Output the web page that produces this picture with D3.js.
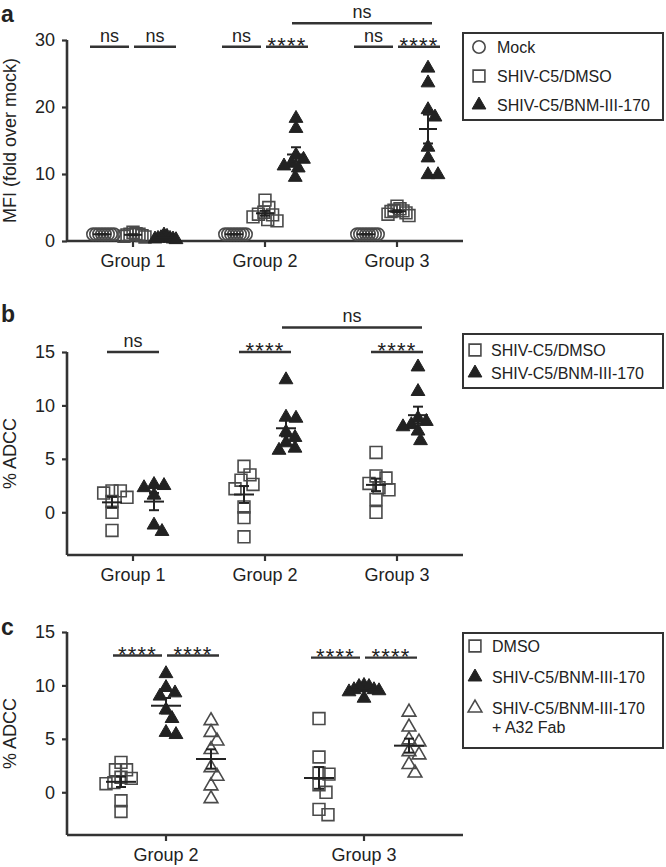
<!DOCTYPE html>
<html>
<head>
<meta charset="utf-8">
<script src="https://cdnjs.cloudflare.com/ajax/libs/d3/7.8.5/d3.min.js"></script>
<style>
  body { margin: 0; background: #fff; }
  svg text { font-family: "Liberation Sans", Arial, Helvetica, sans-serif; fill: #222; }
</style>
</head>
<body>
<div id="chart"></div>
<script>
// ---- data ----
const groupsA = ["Group 1", "Group 2", "Group 3"];
const mockA = [
  [1, 1, 1, 1, 1, 1, 1, 1],
  [1, 1, 1, 1, 1, 1, 1, 1],
  [1, 1, 1, 1, 1, 1, 1, 1]
];
const dmsoA = [
  [1.3, 1.1, 1.0, 1.0, 0.9, 0.8, 0.7, 0.6],
  [6.1, 5.0, 4.3, 4.0, 3.9, 3.6, 3.2, 3.0],
  [5.2, 4.8, 4.6, 4.5, 4.4, 4.2, 4.0, 3.8]
];
const bnmA = [
  [0.9, 0.7, 0.5, 0.4, 0.4, 0.3, 0.3, 0.2],
  [18.3, 16.8, 12.8, 12.2, 11.6, 11.2, 10.9, 9.5],
  [25.8, 23.6, 19.6, 18.5, 14.0, 12.4, 9.9, 9.9]
];

const groupsB = ["Group 1", "Group 2", "Group 3"];
const dmsoB = [
  [2.0, 1.8, 1.4, 1.0, 2.0, 0.0, -1.7],
  [4.3, 3.5, 3.0, 2.6, 2.2, 0.5, -0.5, -2.3],
  [5.6, 3.4, 3.2, 2.7, 2.3, 2.1, 1.2, 0.0]
];
const bnmB = [
  [2.6, 2.3, 2.5, 1.6, -1.8, -1.2],
  [12.4, 8.9, 8.8, 7.5, 7.0, 6.5, 6.0, 5.8],
  [13.6, 11.3, 8.8, 8.5, 8.2, 8.0, 7.6, 6.7]
];

const groupsC = ["Group 2", "Group 3"];
const dmsoC = [
  [2.8, 2.1, 2.1, 1.4, 1.3, 0.9, 0.8, -0.8, -1.8],
  [6.9, 3.3, 1.8, 1.7, 0.7, 0.0, -1.6, -2.1]
];
const bnmC = [
  [11.1, 9.8, 9.3, 9.0, 7.7, 6.9, 5.6, 5.4],
  [10.0, 9.9, 9.9, 9.6, 9.6, 9.5, 9.4, 8.8]
];
const fabC = [
  [6.7, 5.6, 4.8, 4.0, 2.3, 1.5, 0.6, -0.6],
  [7.5, 6.1, 4.9, 4.7, 3.8, 3.5, 2.6, 1.8]
];

// significance brackets: group, from series, to series, level (data units), label
const sigA = [
  {g: 0, from: 0, to: 1, level: 29, label: "ns"},
  {g: 0, from: 1, to: 2, level: 29, label: "ns"},
  {g: 1, from: 0, to: 1, level: 29, label: "ns"},
  {g: 1, from: 1, to: 2, level: 29, label: "****"},
  {g: 2, from: 0, to: 1, level: 29, label: "ns"},
  {g: 2, from: 1, to: 2, level: 29, label: "****"}
];
const spanA = [{g1: 1, g2: 2, s: 2, level: 32.5, label: "ns"}];
const sigB = [
  {g: 0, from: 0, to: 1, level: 15, label: "ns"},
  {g: 1, from: 0, to: 1, level: 15, label: "****"},
  {g: 2, from: 0, to: 1, level: 15, label: "****"}
];
const spanB = [{g1: 1, g2: 2, s: 1, level: 17.3, label: "ns"}];
const sigC = [
  {g: 0, from: 0, to: 1, level: 12.8, label: "****"},
  {g: 0, from: 1, to: 2, level: 12.8, label: "****"},
  {g: 1, from: 0, to: 1, level: 12.6, label: "****"},
  {g: 1, from: 1, to: 2, level: 12.6, label: "****"}
];

const W = 666, H = 867;
const svg = d3.select("#chart").append("svg")
  .attr("width", W).attr("height", H);

const ink = "#222", openInk = "#4a4a4a";
const sym = {
  circle: d3.symbol().type(d3.symbolCircle).size(120)(),
  square: d3.symbol().type(d3.symbolSquare).size(140)(),
  triangle: d3.symbol().type(d3.symbolTriangle).size(82)()
};

function marker(sel, kind, filled) {
  return sel.append("path")
    .attr("d", sym[kind])
    .attr("fill", filled ? ink : "none")
    .attr("stroke", filled ? ink : openInk)
    .attr("stroke-width", filled ? 1 : 1.6);
}

// small beeswarm: push points sideways until they stop overlapping,
// then squeeze the column if it grows wider than maxSpread
function swarm(values, y, dist, maxSpread) {
  const pts = values.map(v => ({v: v, py: y(v), dx: 0})).sort((a, b) => a.py - b.py);
  const placed = [];
  pts.forEach(p => {
    for (let k = 0; k < 200; k++) {
      const off = (k % 2 ? 1 : -1) * Math.ceil(k / 2);
      const hit = placed.some(q => Math.hypot(q.dx - off, q.py - p.py) < dist);
      if (!hit) { p.dx = off; break; }
    }
    placed.push(p);
  });
  const ext = d3.max(pts, p => Math.abs(p.dx));
  if (ext > maxSpread / 2) pts.forEach(p => { p.dx *= (maxSpread / 2) / ext; });
  return pts;
}

function drawPanel(c) {
  const y = d3.scaleLinear().domain(c.yDomain).range([c.bottom, c.top]);
  const x = d3.scaleBand().domain(c.groups).range([67, 463]);
  const names = c.series.map(s => s.name);
  const sub = d3.scalePoint().domain(names).range([-c.subW, c.subW]);
  const cx = (g, si) => x(c.groups[g]) + x.bandwidth() / 2 + sub(names[si]);

  const g = svg.append("g");

  // axes
  const yAxis = d3.axisLeft(y).tickValues(c.ticks).tickSize(5).tickPadding(7);
  const ya = g.append("g").attr("transform", "translate(67,0)").call(yAxis);
  ya.select(".domain").attr("d", "M0," + y(c.yDomain[1]) + "V" + c.bottom);
  const xAxis = d3.axisBottom(x).tickSize(6).tickPadding(7);
  const xa = g.append("g").attr("transform", "translate(0," + c.bottom + ")").call(xAxis);
  xa.select(".domain").attr("d", "M67,0H463");
  g.selectAll(".domain").attr("stroke", "#333").attr("stroke-width", 2.6);
  g.selectAll(".tick line").attr("stroke", "#333").attr("stroke-width", 2.2);
  g.selectAll(".tick text").attr("font-size", 18).attr("fill", "#222")
    .style("font-family", "'Liberation Sans', Arial, sans-serif");

  // points + mean ± SEM
  c.series.forEach((s, si) => {
    s.data.forEach((vals, gi) => {
      const px = cx(gi, si);
      swarm(vals, y, 10, c.spread).forEach(p => {
        marker(g, s.kind, s.filled).attr("transform", "translate(" + (px + p.dx) + "," + p.py + ")");
      });
      const m = d3.mean(vals);
      const sem = d3.deviation(vals) / Math.sqrt(vals.length);
      const eb = g.append("g").attr("stroke", ink).attr("stroke-width", 2).attr("fill", "none");
      eb.append("line").attr("x1", px - c.meanW).attr("x2", px + c.meanW).attr("y1", y(m)).attr("y2", y(m));
      eb.append("line").attr("x1", px).attr("x2", px).attr("y1", y(m - sem)).attr("y2", y(m + sem));
      [m - sem, m + sem].forEach(v => {
        eb.append("line").attr("x1", px - 5).attr("x2", px + 5).attr("y1", y(v)).attr("y2", y(v));
      });
    });
  });

  // significance bars
  function sigText(xm, yb, label) {
    const star = label.indexOf("*") >= 0;
    g.append("text").attr("x", xm).attr("y", star ? yb + 6 : yb - 5)
      .attr("text-anchor", "middle").attr("font-size", star ? 22 : 18)
      .attr("letter-spacing", star ? 1.2 : 0)
      .text(label);
  }
  const last = names.length - 1;
  c.sig.forEach(b => {
    const shared = c.sig.some(o => o !== b && o.g === b.g && (o.from === b.to || o.to === b.from));
    let x1 = cx(b.g, b.from) - c.barPad;
    let x2 = cx(b.g, b.to) + c.barPad;
    if (shared && b.to < last) x2 = cx(b.g, b.to) - 4;
    if (shared && b.from > 0) x1 = cx(b.g, b.from) + 1;
    const yb = y(b.level);
    g.append("line").attr("x1", x1).attr("x2", x2).attr("y1", yb).attr("y2", yb)
      .attr("stroke", "#333").attr("stroke-width", 2.4);
    sigText((x1 + x2) / 2, yb, b.label);
  });
  c.span.forEach(b => {
    const x1 = cx(b.g1, b.s) - 4, x2 = cx(b.g2, b.s) + 4;
    const yb = y(b.level);
    g.append("line").attr("x1", x1).attr("x2", x2).attr("y1", yb).attr("y2", yb)
      .attr("stroke", "#333").attr("stroke-width", 2.4);
    sigText((x1 + x2) / 2, yb, b.label);
  });

  // y title and panel letter
  g.append("text")
    .attr("transform", "translate(16," + ((c.top + c.bottom) / 2) + ") rotate(-90)")
    .attr("text-anchor", "middle").attr("font-size", 18).text(c.yTitle);
  g.append("text").attr("x", 1).attr("y", c.letterY)
    .attr("font-size", 23).attr("font-weight", "bold").attr("fill", "#111").text(c.letter);

  // legend
  const L = c.legend;
  g.append("rect").attr("x", 463).attr("y", L.top).attr("width", 200).attr("height", L.h)
    .attr("fill", "none").attr("stroke", "#333").attr("stroke-width", 2);
  let ly = L.top + L.first;
  c.series.forEach((s, si) => {
    marker(g, s.kind, s.filled).attr("transform", "translate(" + L.symX + "," + ly + ")");
    const t = g.append("text").attr("x", L.textX).attr("y", ly + 6).attr("font-size", 16);
    s.label.forEach((line, li) => {
      t.append("tspan").attr("x", L.textX).attr("dy", li ? 19 : 0).text(line);
    });
    ly += L.gap + (s.label.length - 1) * 19;
  });
}

drawPanel({
  groups: groupsA, yDomain: [0, 30], ticks: [0, 10, 20, 30], top: 40, bottom: 241,
  subW: 31, spread: 24, meanW: 9, barPad: 12,
  series: [
    {name: "Mock", label: ["Mock"], data: mockA, kind: "circle", filled: false},
    {name: "DMSO", label: ["SHIV-C5/DMSO"], data: dmsoA, kind: "square", filled: false},
    {name: "BNM", label: ["SHIV-C5/BNM-III-170"], data: bnmA, kind: "triangle", filled: true}
  ],
  sig: sigA, span: spanA,
  yTitle: "MFI (fold over mock)", letter: "a", letterY: 22,
  legend: {top: 33, h: 87, first: 14, gap: 29, symX: 479, textX: 497}
});

drawPanel({
  groups: groupsB, yDomain: [-4, 15], ticks: [0, 5, 10, 15], top: 352, bottom: 555,
  subW: 21, spread: 30, meanW: 10, barPad: 5,
  series: [
    {name: "DMSO", label: ["SHIV-C5/DMSO"], data: dmsoB, kind: "square", filled: false},
    {name: "BNM", label: ["SHIV-C5/BNM-III-170"], data: bnmB, kind: "triangle", filled: true}
  ],
  sig: sigB, span: spanB,
  yTitle: "% ADCC", letter: "b", letterY: 322,
  legend: {top: 334, h: 54, first: 16, gap: 23, symX: 475, textX: 491}
});

drawPanel({
  groups: groupsC, yDomain: [-4, 15], ticks: [0, 5, 10, 15], top: 632, bottom: 835,
  subW: 45, spread: 30, meanW: 15, barPad: 8,
  series: [
    {name: "DMSO", label: ["DMSO"], data: dmsoC, kind: "square", filled: false},
    {name: "BNM", label: ["SHIV-C5/BNM-III-170"], data: bnmC, kind: "triangle", filled: true},
    {name: "Fab", label: ["SHIV-C5/BNM-III-170", "+ A32 Fab"], data: fabC, kind: "triangle", filled: false}
  ],
  sig: sigC, span: [],
  yTitle: "% ADCC", letter: "c", letterY: 635,
  legend: {top: 633, h: 115, first: 13, gap: 31, symX: 475, textX: 492}
});
</script>
</body>
</html>
